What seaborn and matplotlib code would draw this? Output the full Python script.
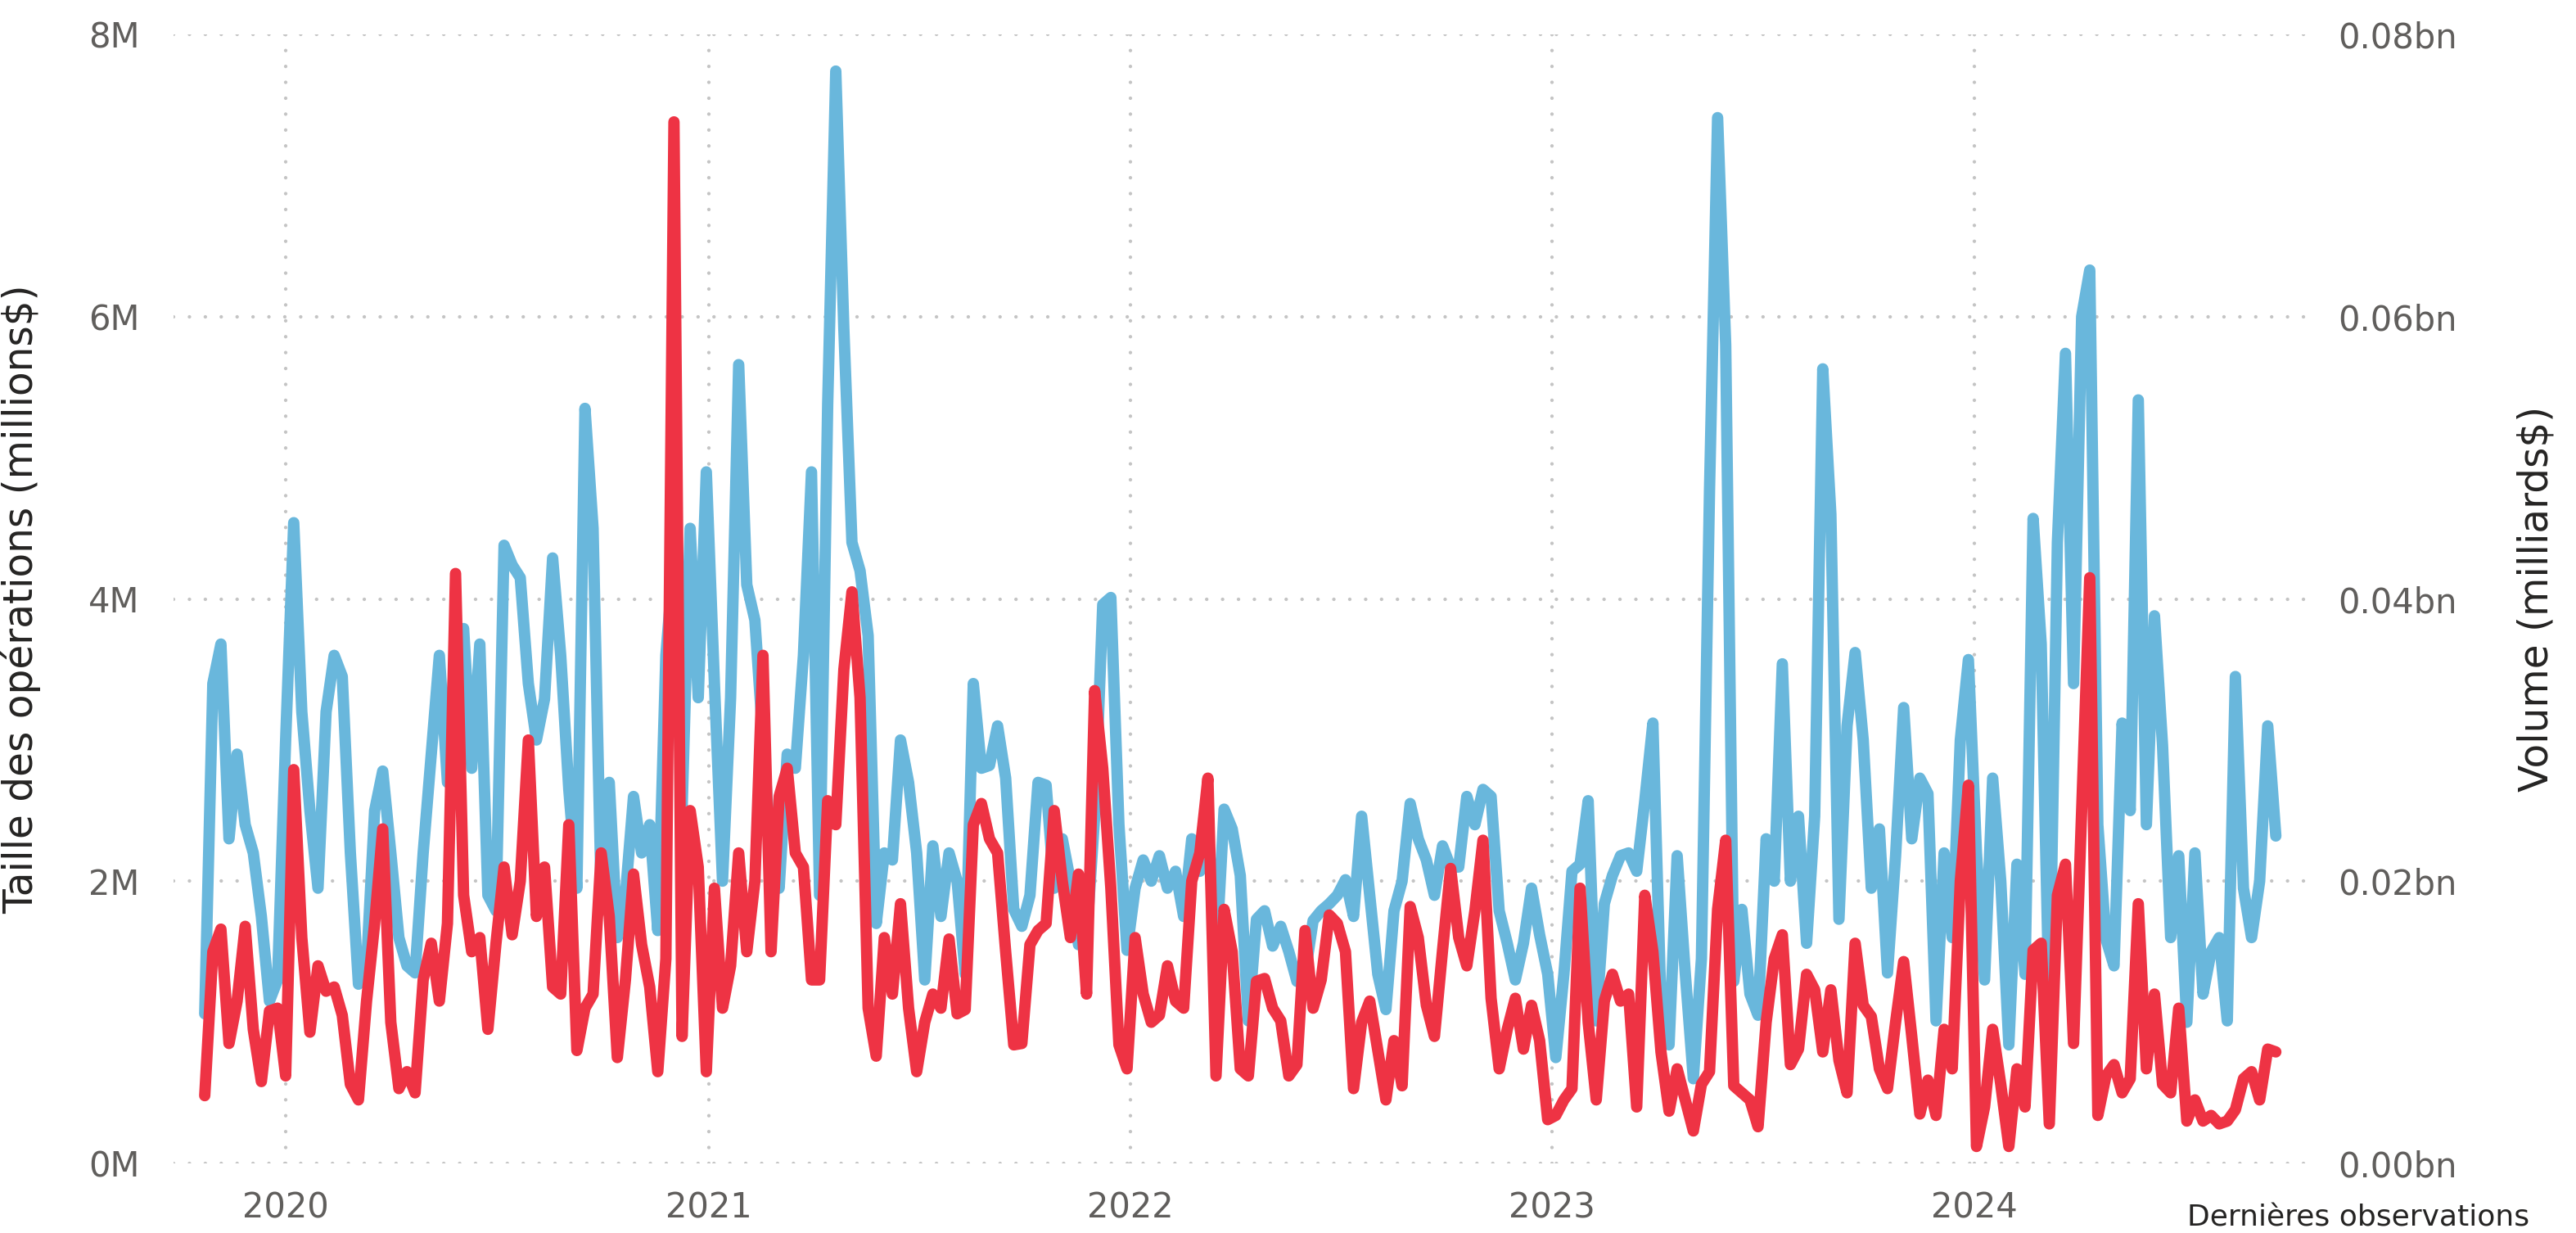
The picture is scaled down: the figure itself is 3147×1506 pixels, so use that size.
import matplotlib
matplotlib.use("Agg")
import matplotlib.pyplot as plt
import pandas as pd
import seaborn as sns

# ---------------- data (weekly readings) ----------------
start_date = "2019-10-23"

# Taille des opérations, millions $
taille = [
    1.06, 3.4, 3.68, 2.3, 2.9, 2.4, 2.2, 1.75, 1.15, 1.3, 3.0, 4.54, 3.2, 2.5, 1.95, 3.2, 3.6, 3.45, 2.2, 1.27,
    1.4, 2.5, 2.78, 2.2, 1.6, 1.4, 1.35, 2.2, 2.9, 3.6, 2.7, 3.7, 3.79, 2.8, 3.68, 1.9, 1.79, 4.38, 4.24, 4.15,
    3.4, 3.0, 3.29, 4.29,
    3.6, 2.65, 1.95, 5.35, 4.5, 1.9, 2.7, 1.6, 1.9, 2.6, 2.2, 2.4, 1.65, 3.6, 4.3, 2.5, 4.5, 3.3, 4.9, 3.4,
    2.0, 3.3, 5.66, 4.1, 3.85, 3.0, 2.2, 1.95, 2.9, 2.8, 3.6, 4.9, 1.9, 5.38, 7.74, 5.91, 4.4, 4.2, 3.74, 1.7,
    2.2, 2.15, 3.0, 2.7, 2.2, 1.3, 2.25,
    1.75, 2.2, 2.0, 1.34, 3.4, 2.8, 2.82, 3.1, 2.73, 1.8, 1.68, 1.9, 2.7, 2.68, 1.95, 2.3, 2.0, 1.55, 1.6, 2.46,
    3.96, 4.01, 2.4, 1.51, 1.95, 2.15, 2.0, 2.18, 1.95, 2.07, 1.75, 2.3, 2.07, 2.4, 1.45, 2.51, 2.37, 2.04, 1.01, 1.73,
    1.79, 1.54, 1.68, 1.5, 1.29, 1.34,
    1.72, 1.79, 1.84, 1.9, 2.01, 1.75, 2.46, 1.9, 1.34, 1.09, 1.79, 2.0, 2.55, 2.3, 2.15, 1.9, 2.25, 2.1, 2.1, 2.6,
    2.4, 2.65, 2.6, 1.79, 1.56, 1.3, 1.56, 1.95, 1.62, 1.34, 0.75, 1.34, 2.07, 2.12, 2.57, 1.01, 1.84, 2.04, 2.18, 2.2,
    2.07, 2.57, 3.12, 1.12, 0.84, 2.18, 1.35,
    0.6, 1.45, 4.77, 7.41, 5.8, 1.29, 1.8, 1.2, 1.05, 2.3, 2.0, 3.54, 2.0, 2.46, 1.56, 2.46, 5.63, 4.6, 1.73, 3.1,
    3.62, 3.0, 1.95, 2.37, 1.35, 2.18, 3.23, 2.3, 2.73, 2.62, 1.01, 2.2, 1.6, 3.0, 3.57, 2.2, 1.3, 2.73, 2.0, 0.84,
    2.12, 1.34, 4.57, 3.68, 1.06, 4.4,
    5.74, 3.4, 6.0, 6.33, 2.4, 1.59, 1.4, 3.12, 2.5, 5.41, 2.4, 3.88, 2.96, 1.6, 2.18, 1.0, 2.2, 1.2, 1.5, 1.6,
    1.01, 3.45, 1.95, 1.6, 2.0, 3.1, 2.32,
]

# Volume, milliards $
volume = [
    0.0048, 0.015, 0.0166, 0.0085, 0.0115, 0.0168, 0.0095, 0.0058, 0.0108, 0.011, 0.0062, 0.0279, 0.016, 0.0093,
    0.014, 0.0122, 0.0125, 0.0105, 0.0056, 0.0045, 0.0115, 0.017, 0.0237, 0.010, 0.0053, 0.0065, 0.005, 0.013,
    0.0156, 0.0115, 0.017, 0.0418, 0.019, 0.015, 0.016, 0.0095, 0.0156, 0.021, 0.0162, 0.020, 0.030, 0.0175,
    0.021, 0.0125,
    0.012, 0.024, 0.008, 0.011, 0.012, 0.022, 0.0175, 0.0075, 0.013, 0.0205, 0.0155, 0.0125, 0.0065, 0.0145,
    0.0738, 0.009, 0.025, 0.021, 0.0065, 0.0195, 0.011, 0.014, 0.022, 0.015, 0.020, 0.036, 0.015, 0.026,
    0.028, 0.022, 0.021, 0.013, 0.013, 0.0257, 0.024, 0.035, 0.0405, 0.033, 0.011, 0.0076, 0.016, 0.012,
    0.0184, 0.011, 0.0065, 0.010, 0.012,
    0.011, 0.0159, 0.0106, 0.0109, 0.024, 0.0255, 0.023, 0.022, 0.015, 0.0084, 0.0085, 0.0155, 0.0165, 0.017,
    0.025, 0.020, 0.016, 0.0205, 0.012, 0.0335, 0.028, 0.0195, 0.0084, 0.0067, 0.016, 0.012, 0.010, 0.0105,
    0.014, 0.0115, 0.011, 0.020, 0.022, 0.0273, 0.0062, 0.018, 0.015, 0.0067, 0.0062, 0.0129, 0.0131, 0.011,
    0.0101, 0.0062, 0.007, 0.0165,
    0.011, 0.013, 0.0176, 0.017, 0.015, 0.0053, 0.010, 0.0115, 0.008, 0.0045, 0.0087, 0.0055, 0.0182, 0.016,
    0.0112, 0.009, 0.0151, 0.0209, 0.016, 0.014, 0.0179, 0.0229, 0.0117, 0.0067, 0.0095, 0.0117, 0.0081, 0.0112,
    0.0087, 0.0031, 0.0034, 0.0045, 0.0053, 0.0195, 0.010, 0.0045, 0.0115, 0.0134, 0.0115, 0.012, 0.004, 0.019,
    0.015, 0.0079, 0.0037, 0.0067, 0.0045,
    0.0023, 0.0056, 0.0065, 0.018, 0.0229, 0.0055, 0.005, 0.0045, 0.0026, 0.010, 0.0145, 0.0162, 0.007, 0.0081,
    0.0134, 0.0123, 0.0079, 0.0123, 0.0073, 0.005, 0.0156, 0.0112, 0.0104, 0.0067, 0.0053, 0.010, 0.0143, 0.009,
    0.0035, 0.0059, 0.0034, 0.0095, 0.0067, 0.020, 0.0268, 0.0012, 0.004, 0.0095, 0.0056, 0.0012, 0.0067, 0.004,
    0.0151, 0.0156, 0.0028, 0.019,
    0.0212, 0.0085, 0.025, 0.0415, 0.0034, 0.0062, 0.007, 0.005, 0.006, 0.0184, 0.0067, 0.012, 0.0056, 0.005,
    0.011, 0.003, 0.0045, 0.003, 0.0034, 0.0028, 0.003, 0.0038, 0.006, 0.0065, 0.0045, 0.0081, 0.0079,
]

year_ticks = ["2020", "2021", "2022", "2023", "2024"]
left_ticks = [0, 2, 4, 6, 8]
right_ticks = [0.0, 0.02, 0.04, 0.06, 0.08]

dates = pd.date_range(start_date, periods=len(taille), freq="7D")
df = pd.DataFrame({"date": dates, "taille": taille, "volume": volume})

BLUE = "#69B7DC"
RED = "#EE3344"
GRID = "#C4C4C4"
TICK = "#605E5C"
LABEL = "#252423"

# ---------------- figure ----------------
sns.set_theme(style="white")
plt.rcParams["font.family"] = ["DejaVu Sans"]

W, H, DPI = 3147, 1506, 200
fig = plt.figure(figsize=(W / DPI, H / DPI), dpi=DPI)
L, R, T, B = 212, 2817, 42, 1421
ax = fig.add_axes([L / W, 1 - B / H, (R - L) / W, (B - T) / H])

line_kw = dict(linewidth=5.0, solid_capstyle="round", solid_joinstyle="round")
sns.lineplot(data=df, x="date", y="taille", ax=ax, color=BLUE, **line_kw)
ax2 = ax.twinx()
sns.lineplot(data=df, x="date", y="volume", ax=ax2, color=RED, **line_kw)

ax.set_xlim(pd.Timestamp("2019-09-26"), pd.Timestamp("2024-10-14"))
ax.set_ylim(0, 8)
ax2.set_ylim(0, 0.08)

ax.set_xticks([pd.Timestamp(f"{y}-01-01") for y in year_ticks])
ax.set_xticklabels(year_ticks)
ax.set_yticks(left_ticks)
ax.set_yticklabels([f"{v}M" for v in left_ticks])
ax2.set_yticks(right_ticks)
ax2.set_yticklabels([f"{v:.2f}bn" for v in right_ticks])

# round dots ~4 px, every ~20 px
ax.grid(True, axis="both", color=GRID, linestyle=(0, (0.01, 4.5)), linewidth=1.55,
        dash_capstyle="round")
ax2.grid(False)
ax.set_axisbelow(True)

for a in (ax, ax2):
    for s in a.spines.values():
        s.set_visible(False)
    a.tick_params(length=0, labelsize=15, colors=TICK)
ax.tick_params(axis="y", pad=15)
ax.tick_params(axis="x", pad=12)
ax2.tick_params(axis="y", pad=14)

ax.set_xlabel("")
ax.set_ylabel("Taille des opérations (millions$)", fontsize=17.5, color=LABEL)
ax.yaxis.set_label_coords(-0.062, 0.5)
ax2.set_ylabel("Volume (milliards$)", fontsize=17.5, color=LABEL, rotation=90)
ax2.yaxis.set_label_coords(1.099, 0.5)

fig.text(3090 / W, 1 - 1487 / H, "Dernières observations", ha="right", va="center",
         fontsize=13, color=LABEL)

fig.savefig("out.png", dpi=DPI)
